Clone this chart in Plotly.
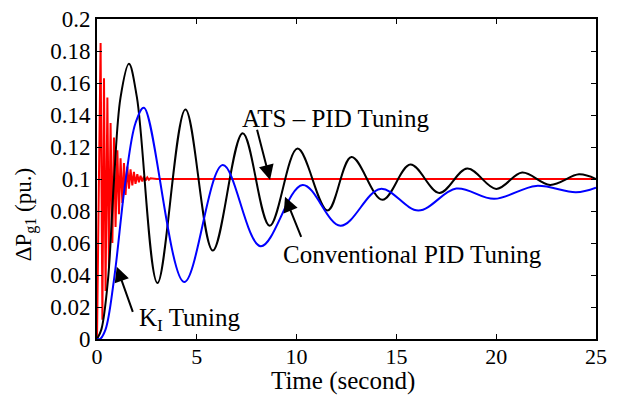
import plotly.graph_objects as go

# ---- data ----
red_t = [0, 0.18, 0.27, 0.35, 0.43, 0.52, 0.6, 0.68, 0.77, 0.85, 0.93, 1.02, 1.1, 1.18,
         1.27, 1.35, 1.43, 1.52, 1.6, 1.68, 1.77, 1.85, 1.93, 2.02, 2.1, 2.18, 2.27,
         2.35, 2.43, 2.52, 2.6, 2.68, 3.0, 25]
red_v = [0, 0.185, 0.012, 0.163, 0.03, 0.151, 0.045, 0.135, 0.06, 0.126, 0.07, 0.118,
         0.078, 0.113, 0.085, 0.110, 0.09, 0.1077, 0.094, 0.106, 0.096, 0.1045, 0.097,
         0.103, 0.098, 0.102, 0.0985, 0.1015, 0.099, 0.101, 0.0995, 0.1005, 0.1, 0.1]

black_t = [0, 0.22, 0.55, 0.85, 1.18, 1.6, 2.0, 3.03, 4.43, 5.8, 7.3, 8.65, 10.05, 11.55,
           12.75, 14.3, 15.7, 17.15, 18.55, 20.0, 21.3, 22.7, 24.15, 25]
black_v = [0, 0.006, 0.037, 0.099, 0.151, 0.172, 0.151, 0.035, 0.1435, 0.0553, 0.1286,
           0.0708, 0.119, 0.0803, 0.1137, 0.087, 0.109, 0.0913, 0.1066, 0.0938, 0.104,
           0.0963, 0.1029, 0.1]

blue_t = [0, 0.15, 0.43, 0.85, 1.43, 1.93, 2.35, 4.37, 6.3, 8.2, 10.3, 12.2, 14.2, 16.1,
          18.0, 19.9, 22.0, 24.0, 25]
blue_v = [0, 0.0, 0.006, 0.037, 0.099, 0.135, 0.1445, 0.0356, 0.1087, 0.058, 0.0963,
          0.0708, 0.0938, 0.0803, 0.094, 0.0876, 0.0957, 0.0917, 0.0946]

x_ticks = [0, 5, 10, 15, 20, 25]
y_ticks = [0, 0.02, 0.04, 0.06, 0.08, 0.1, 0.12, 0.14, 0.16, 0.18, 0.2]
y_tick_labels = ["0", "0.02", "0.04", "0.06", "0.08", "0.1", "0.12", "0.14", "0.16", "0.18", "0.2"]

x_title = "Time (second)"
y_title = "ΔP<sub>g1</sub> (pu.)"

FONT = "Liberation Serif, Times New Roman, Times, serif"

fig = go.Figure()
fig.add_trace(go.Scatter(x=red_t, y=red_v, mode="lines",
                         line=dict(color="#ff0000", width=2)))
fig.add_trace(go.Scatter(x=black_t, y=black_v, mode="lines",
                         line=dict(color="#000000", width=2, shape="spline", smoothing=1.0)))
fig.add_trace(go.Scatter(x=blue_t, y=blue_v, mode="lines",
                         line=dict(color="#0000ff", width=2, shape="spline", smoothing=1.0)))

axis_common = dict(showgrid=False, zeroline=False, showline=True, linecolor="black",
                   linewidth=2, mirror="ticks", ticks="inside", ticklen=5, tickwidth=1,
                   tickcolor="black", automargin=False, ticklabeloverflow="allow")

fig.update_xaxes(range=[0, 25], tickvals=x_ticks, **axis_common, ticklabelstandoff=-3,
                 tickfont=dict(family=FONT, size=22, color="black"))
fig.update_yaxes(range=[0, 0.2], tickvals=y_ticks, ticktext=y_tick_labels, **axis_common,
                 tickfont=dict(family=FONT, size=23, color="black"))

# axis titles
fig.add_annotation(x=0.493, y=-0.13, xref="paper", yref="paper", text=x_title,
                   showarrow=False, xanchor="center", yanchor="middle",
                   font=dict(family=FONT, size=25, color="black"))
fig.add_annotation(x=-0.144, y=0.39, xref="paper", yref="paper", text=y_title,
                   showarrow=False, textangle=-90, xanchor="center", yanchor="middle",
                   font=dict(family=FONT, size=23, color="black"))

arrows = [
    dict(x=8.67, y=0.0994, ax=8.0, ay=0.1317),
    dict(x=9.42, y=0.0889, ax=10.26, ay=0.0629),
    dict(x=0.99, y=0.0452, ax=1.82, ay=0.016),
]
for a in arrows:
    fig.add_annotation(x=a["x"], y=a["y"], ax=a["ax"], ay=a["ay"], xref="x", yref="y",
                       axref="x", ayref="y", text="", showarrow=True, arrowhead=2,
                       arrowsize=1.5, arrowwidth=2, arrowcolor="black")

labels = [
    dict(x=11.93, y=0.138, text="ATS – PID Tuning"),
    dict(x=15.83, y=0.053, text="Conventional PID Tuning"),
    dict(x=4.66, y=0.0125, text="K<sub>I</sub> Tuning"),
]
for l in labels:
    fig.add_annotation(x=l["x"], y=l["y"], xref="x", yref="y", text=l["text"],
                       showarrow=False, font=dict(family=FONT, size=25, color="black"))

fig.update_layout(width=610, height=395, showlegend=False,
                  margin=dict(l=89, r=22, t=11, b=64),
                  plot_bgcolor="white", paper_bgcolor="white")

fig.write_html("out.html")
